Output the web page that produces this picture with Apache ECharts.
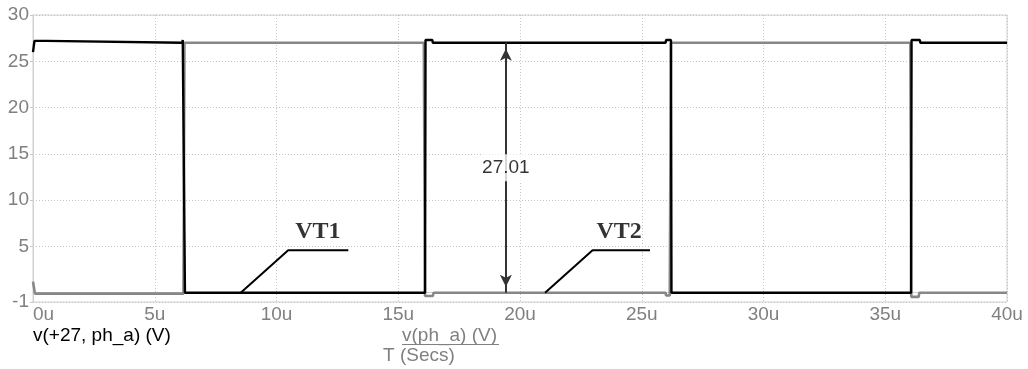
<!DOCTYPE html>
<html>
<head>
<meta charset="utf-8">
<script src="https://cdn.jsdelivr.net/npm/echarts@6/dist/echarts.min.js"></script>
<style>
  html, body { margin: 0; padding: 0; background: #fff; }
  #chart { width: 1028px; height: 369px; }
</style>
</head>
<body>
<div id="chart"></div>
<script>
// Time axis in microseconds, voltage axis in volts
const timeTicks = [0, 5, 10, 15, 20, 25, 30, 35, 40];
const voltTicks = [-1, 5, 10, 15, 20, 25, 30];

// v(+27, ph_a): voltage across the high-side switch, [t (us), V]
const vHighSide = [
  [0, 26.0], [0.06, 27.2], [0.56, 27.2], [0.6, 27.0],
  [6.13, 27.0], [6.15, 27.3], [6.22, 27.3], [6.24, 0],
  [16.1, 0], [16.12, 27.3], [16.4, 27.3], [16.42, 27.0],
  [25.98, 27.0], [26.0, 27.3], [26.2, 27.3], [26.22, 0],
  [36.06, 0], [36.08, 27.3], [36.42, 27.3], [36.44, 27.0],
  [40, 27.0]
];

// v(ph_a): phase node voltage, [t (us), V]
const vPhase = [
  [0, 1.2], [0.08, -0.1], [6.18, -0.1], [6.22, 27.0],
  [16.05, 27.0], [16.1, -0.35], [16.42, -0.35], [16.45, 0],
  [25.98, 0], [26.0, -0.3], [26.15, -0.3], [26.2, 27.0],
  [36.03, 27.0], [36.07, -0.45], [36.37, -0.45], [36.4, 0],
  [40, 0]
];

// Amplitude measurement cursor
const measureTime = 19.42;
const measuredSwing = 27.01;

// Transistor call-outs
const tagNames = ['VT1', 'VT2'];
const tagAnchors = [[11.7, 6.6], [24.07, 6.6]];
const vt1Leader = [[8.53, 0], [10.48, 4.6], [12.95, 4.6]];
const vt2Leader = [[21.03, 0], [22.98, 4.6], [25.34, 4.6]];

const gridColor = '#c4c4c4';
const tickTextColor = '#808080';
const font = '"Liberation Sans", Arial, sans-serif';
const textSize = 19;

const chart = echarts.init(document.getElementById('chart'), null, { renderer: 'canvas' });

const leaderStyle = { color: '#000', width: 2 };

chart.setOption({
  animation: false,
  backgroundColor: '#fff',
  grid: {
    left: 33, right: 21, top: 15, bottom: 67,
    show: true, borderColor: '#d0d0d0', borderWidth: 1
  },
  xAxis: {
    type: 'value',
    min: timeTicks[0],
    max: timeTicks[timeTicks.length - 1],
    interval: 5,
    axisLine: { show: true, lineStyle: { color: '#d0d0d0', width: 1 } },
    axisTick: { show: false },
    axisLabel: {
      color: tickTextColor, fontFamily: font, fontSize: textSize, margin: 3,
      alignMinLabel: 'left',
      formatter: v => v + 'u'
    },
    splitLine: { show: true, lineStyle: { color: gridColor, width: 1, type: [1, 2] } }
  },
  yAxis: {
    type: 'value',
    min: voltTicks[0],
    max: voltTicks[voltTicks.length - 1],
    axisLine: { show: true, lineStyle: { color: '#d0d0d0', width: 1 } },
    axisTick: { show: true, length: 3, customValues: voltTicks, lineStyle: { color: '#c8c8c8' } },
    axisLabel: {
      color: tickTextColor, fontFamily: font, fontSize: textSize, margin: 4,
      customValues: voltTicks
    },
    splitLine: { show: true, lineStyle: { color: gridColor, width: 1, type: [1, 2] } }
  },
  graphic: [
    {
      type: 'text', left: 33, top: 326, silent: true,
      style: { text: 'v(+27, ph_a) (V)', fill: '#000', font: textSize + 'px ' + font }
    },
    {
      type: 'text', left: 402, top: 326, silent: true,
      style: { text: 'v(ph_a) (V)', fill: '#808080', font: textSize + 'px ' + font }
    },
    {
      type: 'line', silent: true,
      shape: { x1: 402, y1: 344.5, x2: 499, y2: 344.5 },
      style: { stroke: '#808080', lineWidth: 1 }
    },
    {
      type: 'text', left: 383, top: 346, silent: true,
      style: { text: 'T (Secs)', fill: '#808080', font: textSize + 'px ' + font }
    }
  ],
  series: [
    {
      name: 'v(ph_a)', type: 'line', data: vPhase, showSymbol: false,
      lineStyle: { color: '#878787', width: 2.6 }, z: 2
    },
    {
      name: 'v(+27, ph_a)', type: 'line', data: vHighSide, showSymbol: false,
      lineStyle: { color: '#000', width: 2.4 }, z: 3
    },
    {
      name: 'cursor', type: 'scatter', data: [], z: 4,
      markLine: {
        silent: true, animation: false,
        symbol: ['arrow', 'arrow'], symbolSize: [9, 12],
        symbolOffset: [[0, 6], [0, 6]],
        label: { show: false },
        lineStyle: { color: '#333', width: 2, type: 'solid' },
        data: [[{ coord: [measureTime, 0] }, { coord: [measureTime, measuredSwing] }]]
      }
    },
    {
      name: 'cursor value', type: 'scatter', z: 5, silent: true,
      data: [[measureTime, measuredSwing / 2]],
      symbolSize: 0,
      label: {
        show: true, position: 'inside',
        formatter: () => measuredSwing.toFixed(2),
        color: '#000', fontFamily: font, fontSize: textSize,
        backgroundColor: '#fff', padding: [4, 1]
      }
    },
    {
      name: 'VT1 leader', type: 'line', data: vt1Leader, showSymbol: false,
      lineStyle: leaderStyle, z: 4, silent: true
    },
    {
      name: 'VT2 leader', type: 'line', data: vt2Leader, showSymbol: false,
      lineStyle: leaderStyle, z: 4, silent: true
    },
    {
      name: 'tags', type: 'scatter', z: 5, silent: true,
      data: tagAnchors.map((p, i) => ({ value: p, name: tagNames[i] })),
      symbolSize: 0,
      label: {
        show: true, position: 'inside', formatter: '{b}',
        color: '#000', fontFamily: '"Liberation Serif", "Times New Roman", serif',
        fontWeight: 'bold', fontSize: 24
      }
    }
  ]
});
</script>
</body>
</html>
